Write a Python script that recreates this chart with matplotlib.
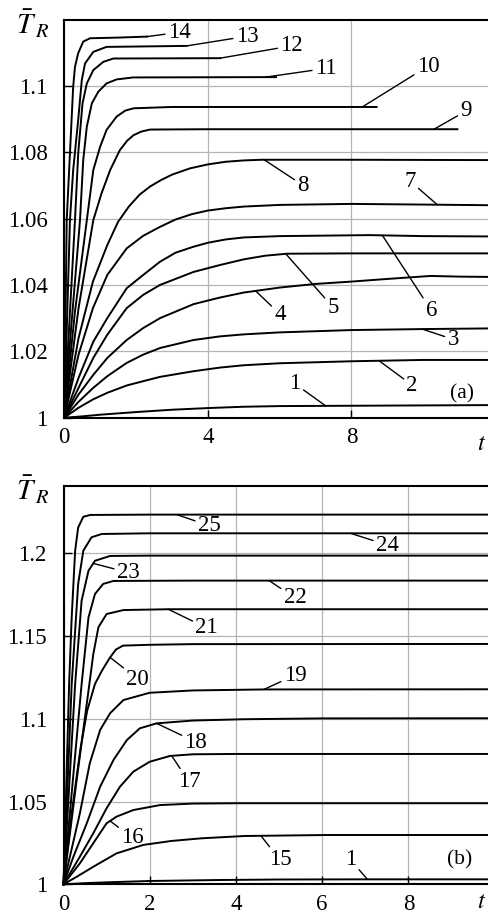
import matplotlib
matplotlib.use('Agg')
import matplotlib.pyplot as plt
import numpy as np

plt.rcParams['font.family'] = 'Liberation Serif'
plt.rcParams['mathtext.fontset'] = 'stix'
FS = 16.5

# ---- panel (a): T_R(t), curves 1..14 ----
a01 = [(0, 1), (0.5, 1.0004), (1, 1.0009), (2, 1.0017), (3, 1.0024), (4, 1.0029), (5, 1.0033),
       (6, 1.0035), (8, 1.0036), (10, 1.0037), (11.9, 1.0038)]
a02 = [(0, 1), (0.4, 1.003), (0.8, 1.0055), (1.2, 1.0075), (1.74, 1.0097), (2.2, 1.011), (2.67, 1.0123),
       (3.6, 1.014), (4.34, 1.0151), (5, 1.0158), (6, 1.0164), (8, 1.017), (10, 1.0174), (11.9, 1.0174)]
a03 = [(0, 1), (0.4, 1.0048), (0.81, 1.009), (1.2, 1.0125), (1.74, 1.0165), (2.2, 1.019), (2.67, 1.021),
       (3.6, 1.0234), (4.34, 1.0245), (5, 1.0251), (6, 1.0257), (8, 1.0264), (10, 1.0267), (11.9, 1.0269)]
a04 = [(0, 1), (0.4, 1.007), (0.81, 1.0129), (1.2, 1.018), (1.74, 1.0234), (2.2, 1.027), (2.67, 1.03),
       (3.6, 1.0342), (4.34, 1.0362), (5, 1.0377), (6, 1.0392), (7, 1.0403), (8, 1.041), (9, 1.0418),
       (10.2, 1.0427), (11, 1.0425), (11.9, 1.0424)]
a05 = [(0, 1), (0.4, 1.009), (0.81, 1.018), (1.2, 1.025), (1.74, 1.033), (2.2, 1.037), (2.67, 1.04),
       (3.6, 1.0439), (4.34, 1.046), (5, 1.0477), (5.6, 1.0488), (6.2, 1.0494), (8, 1.0495),
       (10, 1.0495), (11.9, 1.0495)]
a06 = [(0, 1), (0.4, 1.012), (0.81, 1.0229), (1.2, 1.03), (1.74, 1.039), (2.2, 1.043), (2.67, 1.047),
       (3.1, 1.0497), (3.6, 1.0515), (4.0, 1.0527), (4.5, 1.0537), (5, 1.0543), (6, 1.0547),
       (8.5, 1.055), (10, 1.0547), (11.9, 1.0546)]
a07 = [(0, 1), (0.4, 1.019), (0.8, 1.033), (1.2, 1.043), (1.74, 1.051), (2.2, 1.0548), (2.67, 1.0575),
       (3.1, 1.0597), (3.55, 1.0613), (4.0, 1.0624), (4.5, 1.0631), (5, 1.0636), (6, 1.0641),
       (8, 1.0644), (10, 1.0642), (11.9, 1.064)]
a08 = [(0, 1), (0.4, 1.024), (0.8, 1.041), (1.2, 1.052), (1.5, 1.059), (1.8, 1.0636), (2.1, 1.0672),
       (2.4, 1.0697), (2.7, 1.0716), (3.0, 1.0732), (3.5, 1.0751), (4.0, 1.0763), (4.5, 1.0771),
       (5, 1.0775), (5.5, 1.0777), (8, 1.0777), (11.9, 1.0776)]
a09 = [(0, 1), (0.4, 1.033), (0.81, 1.0595), (1.04, 1.0676), (1.28, 1.0746), (1.55, 1.0806),
       (1.75, 1.0834), (1.93, 1.0851), (2.15, 1.0862), (2.39, 1.0868), (4, 1.0869), (10.95, 1.0869)]
a10 = [(0, 1), (0.3, 1.032), (0.63, 1.0595), (0.81, 1.0746), (1.0, 1.0816), (1.18, 1.0867),
       (1.46, 1.0907), (1.7, 1.0925), (1.93, 1.0932), (3, 1.0936), (8.7, 1.0936)]
a11 = [(0, 1), (0.2, 1.028), (0.44, 1.0595), (0.53, 1.0776), (0.63, 1.0877), (0.77, 1.0947),
       (0.95, 1.0982), (1.18, 1.1007), (1.46, 1.1019), (1.92, 1.1025), (5.9, 1.1026)]
a12 = [(0, 1), (0.3, 1.0595), (0.39, 1.0796), (0.51, 1.0947), (0.63, 1.1007), (0.81, 1.1047),
       (1.09, 1.1072), (1.37, 1.1082), (4.35, 1.1083)]
a13 = [(0, 1), (0.16, 1.0595), (0.25, 1.0746), (0.39, 1.0897), (0.49, 1.1017), (0.58, 1.1067),
       (0.81, 1.1102), (1.18, 1.1117), (3.41, 1.112)]
a14 = [(0, 1), (0.07, 1.0595), (0.16, 1.0796), (0.25, 1.0997), (0.3, 1.1057), (0.39, 1.1098),
       (0.53, 1.1133), (0.72, 1.1143), (1.5, 1.1145), (2.31, 1.1148)]

# ---- panel (b): curves 1, 15..25 ----
b01 = [(0, 1), (0.5, 1.0007), (1, 1.0012), (2, 1.002), (3.63, 1.0026), (5, 1.0029), (7, 1.003), (9.9, 1.003)]
b15 = [(0, 1), (0.31, 1.0046), (0.69, 1.0106), (1.23, 1.0187), (1.85, 1.0238), (2.5, 1.0262),
       (3.2, 1.0278), (4.2, 1.0292), (6.1, 1.0298), (9.9, 1.0298)]
b16 = [(0, 1), (0.38, 1.0127), (0.69, 1.0248), (1.0, 1.0369), (1.23, 1.0409), (1.62, 1.0449),
       (2.24, 1.0479), (3, 1.0488), (4, 1.049), (9.9, 1.049)]
b17 = [(0, 1), (0.38, 1.0167), (0.69, 1.0308), (1.0, 1.046), (1.31, 1.059), (1.62, 1.0681),
       (2.0, 1.0741), (2.47, 1.0776), (3, 1.0786), (4, 1.0788), (9.9, 1.0788)]
b18 = [(0, 1), (0.23, 1.0167), (0.54, 1.0369), (0.85, 1.059), (1.16, 1.0752), (1.47, 1.0872),
       (1.77, 1.0943), (2.16, 1.0973), (3, 1.099), (4.2, 1.0998), (6, 1.1003), (9.9, 1.1004)]
b19 = [(0, 1), (0.38, 1.0429), (0.61, 1.0732), (0.85, 1.0933), (1.08, 1.1034), (1.39, 1.1114),
       (2.0, 1.1158), (3, 1.1172), (4.65, 1.1178), (9.9, 1.1179)]
b20 = [(0, 1), (0.2, 1.045), (0.4, 1.083), (0.55, 1.105), (0.73, 1.1211), (0.89, 1.1291),
       (1.08, 1.1372), (1.22, 1.142), (1.38, 1.1443), (2, 1.1448), (3, 1.1452), (9.9, 1.1453)]
b21 = [(0, 1), (0.3, 1.062), (0.61, 1.123), (0.69, 1.139), (0.81, 1.1554), (1.0, 1.1634),
       (1.39, 1.1658), (2.43, 1.1663), (9.9, 1.1663)]
b22 = [(0, 1), (0.2, 1.058), (0.42, 1.121), (0.58, 1.1614), (0.73, 1.1755), (0.92, 1.1816),
       (1.16, 1.1834), (3, 1.1836), (9.9, 1.1836)]
b23 = [(0, 1), (0.27, 1.121), (0.42, 1.1715), (0.58, 1.1896), (0.73, 1.1956), (1.08, 1.1985),
       (2, 1.1987), (9.9, 1.1987)]
b24 = [(0, 1), (0.19, 1.121), (0.34, 1.1816), (0.46, 1.2017), (0.65, 1.2098), (0.77, 1.2108),
       (0.89, 1.2118), (2, 1.2122), (9.9, 1.2122)]
b25 = [(0, 1), (0.13, 1.121), (0.19, 1.1614), (0.27, 1.2017), (0.34, 1.2157), (0.46, 1.2222),
       (0.62, 1.2233), (2, 1.2235), (9.9, 1.2235)]

curves_a = {'1': a01, '2': a02, '3': a03, '4': a04, '5': a05, '6': a06, '7': a07,
            '8': a08, '9': a09, '10': a10, '11': a11, '12': a12, '13': a13, '14': a14}
curves_b = {'1': b01, '15': b15, '16': b16, '17': b17, '18': b18, '19': b19, '20': b20,
            '21': b21, '22': b22, '23': b23, '24': b24, '25': b25}

# label, t where the leader touches the curve, label position (t, T)
notes_a = [('14', 2.31, 3.2, 1.1161), ('13', 3.41, 5.09, 1.1149), ('12', 4.34, 6.33, 1.112),
           ('11', 5.61, 7.28, 1.1052), ('10', 8.3, 10.13, 1.1059), ('9', 10.3, 11.19, 1.0924),
           ('8', 5.57, 6.65, 1.07), ('7', 10.39, 9.63, 1.0713), ('6', 8.86, 10.23, 1.0322),
           ('5', 6.17, 7.49, 1.0332), ('4', 5.33, 6.01, 1.0312), ('3', 9.97, 10.83, 1.0236),
           ('2', 8.77, 9.69, 1.0098), ('1', 7.28, 6.43, 1.0102)]
notes_b = [('25', 2.63, 3.38, 1.2168), ('24', 6.66, 7.51, 1.2051), ('23', 0.69, 1.5, 1.1885),
           ('22', 4.77, 5.37, 1.1731), ('21', 2.43, 3.32, 1.155), ('20', 1.08, 1.72, 1.1241),
           ('19', 4.65, 5.37, 1.1265), ('18', 2.16, 3.07, 1.086), ('17', 2.51, 2.91, 1.062),
           ('16', 1.08, 1.6, 1.028), ('15', 4.58, 5.02, 1.0147), ('1', 7.05, 6.66, 1.0147)]


def draw_panel(ax, curves, notes, xlim, ylim, xticks, yticks, ylabels, tag, tag_pos):
    ax.set_xlim(*xlim)
    ax.set_ylim(*ylim)
    ax.set_xticks(xticks)
    ax.set_yticks(yticks)
    ax.set_yticklabels(ylabels)
    ax.grid(True, color='#b4b4b4', lw=0.9)
    ax.set_axisbelow(True)
    ax.spines['right'].set_visible(False)
    for s in ('left', 'bottom', 'top'):
        ax.spines[s].set_linewidth(1.5)
    ax.tick_params(direction='in', length=6, width=1, labelsize=FS)
    ax.tick_params(axis='y', pad=12)
    ax.tick_params(axis='x', pad=7)

    for pts in curves.values():
        t, v = zip(*pts)
        ax.plot(t, v, color='k', lw=1.4, solid_joinstyle='round', clip_on=False)

    for name, t0, tx, vy in notes:
        t, v = zip(*curves[name])
        y0 = np.interp(t0, t, v)
        ax.annotate(name, xy=(t0, y0), xytext=(tx, vy), ha='center', va='center',
                    fontsize=FS,
                    arrowprops=dict(arrowstyle='-', color='k', lw=1.0, shrinkA=0, shrinkB=0))
    ax.text(tag_pos[0], tag_pos[1], tag, fontsize=FS - 1, ha='center', va='center')


W, H = 489, 924
fig = plt.figure(figsize=(W / 100, H / 100), dpi=100)

ax_a = fig.add_axes([64.2 / W, 1 - 417.7 / H, (W - 64.2) / W, (417.7 - 20) / H])
draw_panel(ax_a, curves_a, notes_a, (0, 11.83), (1, 1.1198), [0, 4, 8],
           [1, 1.02, 1.04, 1.06, 1.08, 1.1], ['1', '1.02', '1.04', '1.06', '1.08', '1.1'],
           '(a)', (11.07, 1.0073))

ax_b = fig.add_axes([63.5 / W, 1 - 884.3 / H, (W - 63.5) / W, (884.3 - 486) / H])
draw_panel(ax_b, curves_b, notes_b, (0, 9.87), (1, 1.2408), [0, 2, 4, 6, 8],
           [1, 1.05, 1.1, 1.15, 1.2], ['1', '1.05', '1.1', '1.15', '1.2'],
           '(b)', (9.18, 1.0147))

# axis titles
for ytop in (24, 490):
    fig.text(16 / W, 1 - ytop / H, r'$\bar{T}_{\,R}$', fontsize=21, ha='left', va='center')
for ybot in (444, 903):
    fig.text(482 / W, 1 - ybot / H, r'$t$', fontsize=FS + 1, ha='center', va='center')

fig.savefig('out.png', dpi=100)
